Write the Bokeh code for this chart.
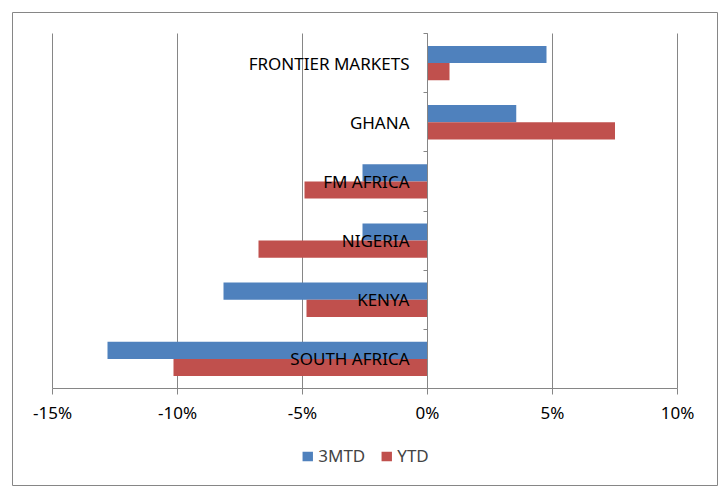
from bokeh.plotting import figure
from bokeh.models import (Range1d, FixedTicker, LinearAxis, Legend, LegendItem,
                          ColumnDataSource)
from bokeh.transform import dodge
from bokeh.embed import file_html
from bokeh.resources import INLINE

# ---- data (bottom to top, as in the source chart) ----
categories = ["SOUTH AFRICA", "KENYA", "NIGERIA", "FM AFRICA", "GHANA", "FRONTIER MARKETS"]
mtd3 = [-12.8, -8.16, -2.6, -2.6, 3.55, 4.76]
ytd = [-10.16, -4.84, -6.76, -4.92, 7.5, 0.88]
x_ticks = [-15, -10, -5, 0, 5, 10]
x_tick_labels = ["-15%", "-10%", "-5%", "0%", "5%", "10%"]
series_names = ["3MTD", "YTD"]

BLUE = "#4F81BD"
RED = "#C0504D"
GRID = "#868686"
FONT = "Noto Sans"
FS = "17px"

# ---- layout geometry (pixels) ----
W, H = 728, 496
box_l, box_r, box_t, box_b = 12, 717, 12, 485        # outer chart border
plot_l, plot_r, plot_t, plot_b = 52, 677, 33, 388    # inner plot area
ncat = len(categories)
xmin, xmax = x_ticks[0], x_ticks[-1]
ppx = (plot_r - plot_l) / (xmax - xmin)
ppy = (plot_b - plot_t) / ncat
x_range = Range1d(xmin - (plot_l - box_l) / ppx, xmax + (box_r - plot_r) / ppx)
y_range = Range1d(0 - (box_b - plot_b) / ppy, ncat + (plot_t - box_t) / ppy)

pos = [i + 0.5 for i in range(ncat)]
bounds = list(range(ncat + 1))
src = ColumnDataSource(dict(cat=categories, pos=pos, mtd3=mtd3, ytd=ytd))

p = figure(width=W, height=H, frame_width=box_r - box_l, frame_height=box_b - box_t,
           x_range=x_range, y_range=y_range,
           output_backend="svg", toolbar_location=None,
           x_axis_location=None, y_axis_location=None,
           min_border_left=box_l, min_border_right=W - box_r,
           min_border_top=box_t, min_border_bottom=H - box_b)
p.outline_line_color = GRID
p.outline_line_width = 1
p.background_fill_color = "white"
p.border_fill_color = "white"

r1 = p.hbar(y=dodge("pos", 0.145), left=0, right="mtd3", height=0.29,
            source=src, fill_color=BLUE, line_color=None)
r2 = p.hbar(y=dodge("pos", -0.145), left=0, right="ytd", height=0.29,
            source=src, fill_color=RED, line_color=None)

# vertical gridlines, limited to the plot area
p.xgrid.ticker = FixedTicker(ticks=x_ticks)
p.xgrid.grid_line_color = GRID
p.xgrid.cross_bounds = (0, ncat)
p.ygrid.grid_line_color = None

# x axis at the bottom of the category area
xax = LinearAxis(ticker=FixedTicker(ticks=x_ticks), fixed_location=0,
                 bounds=(xmin, xmax),
                 major_label_overrides={t: l for t, l in zip(x_ticks, x_tick_labels)})
xax.axis_line_color = GRID
xax.major_tick_line_color = GRID
xax.major_tick_in = 0
xax.major_tick_out = 6
xax.minor_tick_line_color = None
xax.major_label_text_font = FONT
xax.major_label_text_font_size = FS
xax.major_label_text_color = "black"
xax.major_label_standoff = 6
p.add_layout(xax, "below")

# category axis at zero: ticks at boundaries
ax_ticks = LinearAxis(ticker=FixedTicker(ticks=bounds), fixed_location=0,
                      bounds=(0, ncat),
                      major_label_overrides={b: "" for b in bounds})
ax_ticks.axis_line_color = GRID
ax_ticks.major_tick_line_color = GRID
ax_ticks.major_tick_in = 0
ax_ticks.major_tick_out = 4
ax_ticks.minor_tick_line_color = None
p.add_layout(ax_ticks, "left")

# category labels at band centers
ax_labels = LinearAxis(ticker=FixedTicker(ticks=pos), fixed_location=0,
                       major_label_overrides={v: c for v, c in zip(pos, categories)})
ax_labels.axis_line_color = None
ax_labels.major_tick_line_color = None
ax_labels.minor_tick_line_color = None
ax_labels.major_tick_in = 0
ax_labels.major_tick_out = 0
ax_labels.major_label_standoff = 18
ax_labels.major_label_text_font = FONT
ax_labels.major_label_text_font_size = FS
ax_labels.major_label_text_color = "black"
p.add_layout(ax_labels, "left")

legend = Legend(items=[LegendItem(label=series_names[0], renderers=[r1]),
                       LegendItem(label=series_names[1], renderers=[r2])],
                orientation="horizontal", location="bottom_center",
                border_line_color=None, background_fill_alpha=0,
                label_text_font=FONT, label_text_font_size=FS,
                glyph_width=13, glyph_height=12, spacing=14, label_standoff=5,
                padding=4, margin=18)
p.add_layout(legend, "center")

open("out.html", "w").write(file_html(p, INLINE))
